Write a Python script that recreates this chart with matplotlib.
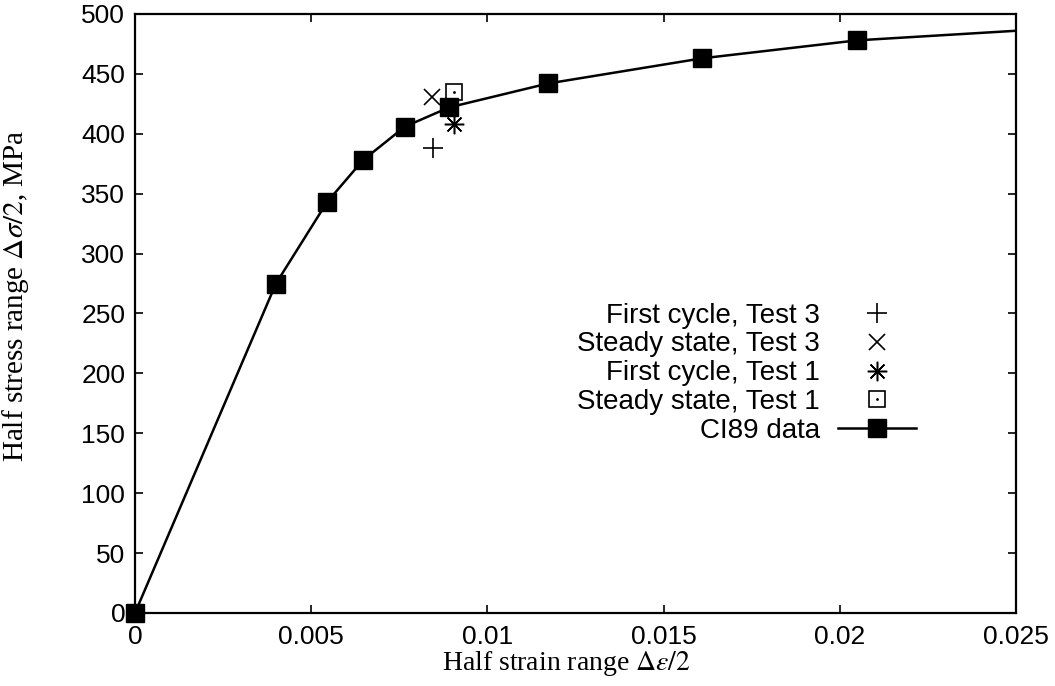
import numpy as np
import matplotlib.pyplot as plt
from matplotlib.legend_handler import HandlerTuple

plt.rcParams['mathtext.fontset'] = 'stix'

# CI89 data (markers) and the end of the fitted curve
ci_strain = [0.0, 0.0040, 0.00545, 0.00647, 0.00766, 0.00891, 0.01172, 0.01609, 0.02049]
ci_stress = [0, 275, 343, 378, 406, 422, 442, 463, 478]
curve_end_strain = [0.025]
curve_end_stress = [486]

# test points
ft3_strain, ft3_stress = [0.00846], [388]   # first cycle, test 3
ss3_strain, ss3_stress = [0.00843], [431]   # steady state, test 3
ft1_strain, ft1_stress = [0.00905], [408]   # first cycle, test 1
ss1_strain, ss1_stress = [0.00905], [435]   # steady state, test 1

xticks = [0, 0.005, 0.01, 0.015, 0.02, 0.025]
xtick_labels = ['0', '0.005', '0.01', '0.015', '0.02', '0.025']
yticks = np.arange(0, 501, 50)

sans = 'Liberation Sans'
serif = 'Liberation Serif'

fig = plt.figure(figsize=(10.55, 6.86), dpi=100)
ax = fig.add_axes([135 / 1055, 73 / 686, 881 / 1055, 599 / 686])

curve_x = ci_strain + curve_end_strain
curve_y = ci_stress + curve_end_stress
ax.plot(curve_x, curve_y, '-', color='k', lw=1.8, zorder=2)
ax.plot(ci_strain, ci_stress, 's', color='k', ms=13, zorder=3, clip_on=False)

p1, = ax.plot(ft3_strain, ft3_stress, '+', color='k', ms=14, mew=1.2, linestyle='none')
p2, = ax.plot(ss3_strain, ss3_stress, 'x', color='k', ms=12, mew=1.2, linestyle='none')
p3, = ax.plot(ft1_strain, ft1_stress, marker=(8, 2, 0), color='k', ms=14, mew=1.1, linestyle='none')
p4, = ax.plot(ss1_strain, ss1_stress, 's', mfc='none', mec='k', ms=12, mew=1.2, linestyle='none')
p4d, = ax.plot(ss1_strain, ss1_stress, '.', color='k', ms=2, linestyle='none')

ci_handle = plt.Line2D([], [], color='k', lw=1.8, marker='s', ms=13)

ax.set_xlim(0, 0.025)
ax.set_ylim(0, 500)
ax.set_xticks(xticks)
ax.set_xticklabels(xtick_labels)
ax.set_yticks(yticks)
ax.tick_params(direction='in', length=6, width=1.2, top=True, right=True,
               labelsize=19)
ax.tick_params(axis='x', pad=9)
ax.tick_params(axis='y', pad=7)
for lab in ax.get_xticklabels() + ax.get_yticklabels():
    lab.set_family(sans)
for s in ax.spines.values():
    s.set_linewidth(1.6)

ax.set_xlabel(r'Half strain range $\Delta\varepsilon/2$', fontsize=20, family=serif)
ax.set_ylabel(r'Half stress range $\Delta\sigma/2$, MPa', fontsize=21, family=serif)
ax.xaxis.set_label_coords(0.49, -0.06)
ax.yaxis.set_label_coords(-0.118, 0.53)

leg = ax.legend([p1, p2, p3, (p4, p4d), ci_handle],
                ['First cycle, Test 3', 'Steady state, Test 3', 'First cycle, Test 1',
                 'Steady state, Test 1', 'CI89 data'],
                handler_map={tuple: HandlerTuple(ndivide=1, pad=0)},
                loc='upper right', bbox_to_anchor=(0.8865, 0.518),
                markerfirst=False, frameon=False, borderpad=0, borderaxespad=0,
                handlelength=2.8, handletextpad=0.65, labelspacing=0.1,
                prop={'family': sans, 'size': 20})
for t in leg.get_texts():
    t.set_ha('right')

fig.savefig('out.png', dpi=100)
